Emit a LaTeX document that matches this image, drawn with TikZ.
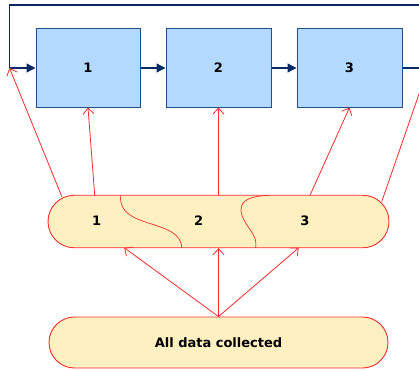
\documentclass[tikz,border=0pt]{standalone}
\usepackage{fontspec}
\setmainfont{DejaVu Sans}
\usetikzlibrary{arrows.meta,shapes.misc}
\definecolor{boxfill}{HTML}{B3D9FF}
\definecolor{boxline}{HTML}{1F4E8C}
\definecolor{navy}{HTML}{0A2A66}
\definecolor{pillfill}{HTML}{FFF0C2}
\definecolor{redl}{HTML}{FF2A2A}
\tikzset{
  stagebox/.style={draw=boxline,fill=boxfill,line width=1pt,minimum width=104pt,minimum height=78pt,inner sep=0pt,font=\bfseries\fontsize{13}{15}\selectfont},
  pill/.style={rounded rectangle,draw=redl,fill=pillfill,line width=0.9pt,inner sep=0pt,font=\bfseries\fontsize{13}{15}\selectfont},
  lbl/.style={inner sep=0pt,font=\bfseries\fontsize{13}{15}\selectfont},
  navline/.style={draw=navy,line width=1.3pt},
  navarrow/.style={navline,-{Triangle[length=9pt,width=9pt]}},
  redarrow/.style={draw=redl,line width=0.8pt,-{Straight Barb[length=6pt,width=11pt,line width=0.8pt]}},
  redline/.style={draw=redl,line width=0.8pt}
}
\begin{document}
\begin{tikzpicture}[x=1pt,y=-1pt]
\useasboundingbox (0,0) rectangle (419,369);
\clip (0,0) rectangle (419,369);
% stage boxes
\node[stagebox] (b1) at (88,68) {1};
\node[stagebox,minimum width=105pt] (b2) at (218.5,68) {2};
\node[stagebox,minimum width=105pt] (b3) at (349.5,68) {3};
% feedback loop
\coordinate (l) at (9.5,68);
\coordinate (tl) at (9.5,5);
\coordinate (r) at (428,68);
\draw[navline] (b3.east) -- (r) |- (tl) -- (l);
\draw[navarrow] (l) -- (b1.west);
\draw[navarrow] (b1.east) -- (b2.west);
\draw[navarrow] (b2.east) -- (b3.west);
% split pill
\node[pill,minimum width=341pt,minimum height=52.5pt] (p1) at (218.5,221.5) {};
\draw[redline,line width=0.7pt] (120.7,195.3) .. controls (117,230) and (181,218) .. (181.7,247.8);
\draw[redline,line width=0.7pt] (270,195.3) .. controls (236,196) and (236,210) .. (249,228) .. controls (257,239) and (256,243) .. (255.7,247.8);
\node[lbl] (t1) at (96.7,221) {1};
\node[lbl] (t2) at (198.7,221) {2};
\node[lbl] (t3) at (305,221) {3};
% all data pill
\node[pill,minimum width=339pt,minimum height=51pt] (p2) at (218.5,342.5) {All data collected};
% red arrows up to the stages
\coordinate (s1) at (62,197);
\coordinate (s2) at (94.7,195.3);
\coordinate (s3) at (218.5,195.3);
\coordinate (s4) at (310,195.3);
\coordinate (s5) at (381.7,201.7);
\draw[redarrow] (s1) -- (l);
\draw[redarrow] (s2) -- (b1.south);
\draw[redarrow] (s3) -- (b2.south);
\draw[redarrow] (s4) -- (b3.south);
\draw[redarrow] (s5) -- (r);
% red arrows from all data
\coordinate (e1) at (124.3,247.8);
\coordinate (e3) at (298.7,247.8);
\draw[redarrow] (p2.north) -- (e1);
\draw[redarrow] (p2.north) -- (p1.south);
\draw[redarrow] (p2.north) -- (e3);
\end{tikzpicture}
\end{document}
